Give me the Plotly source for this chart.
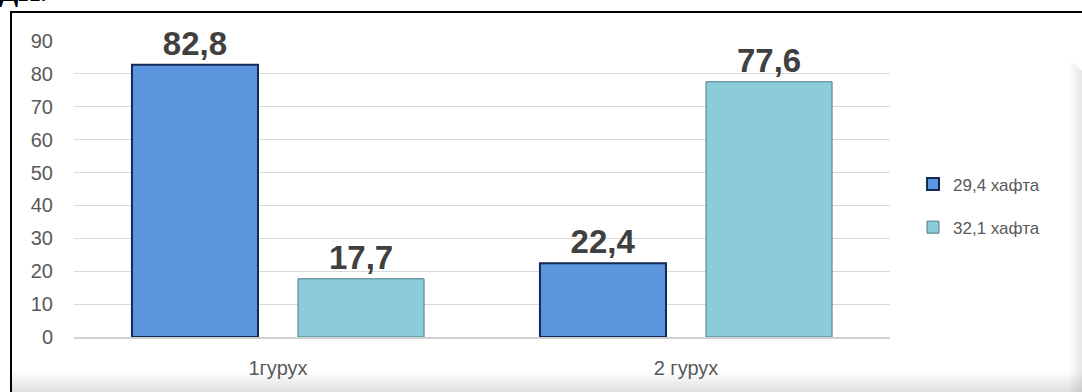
import plotly.graph_objects as go

categories = ["1гурух", "2 гурух"]
series_names = ["29,4 хафта", "32,1 хафта"]
values_s1 = [82.8, 22.4]
values_s2 = [17.7, 77.6]
y_ticks = [0, 10, 20, 30, 40, 50, 60, 70, 80, 90]

W, H = 1082, 392
L, R, T, B = 74, 192, 41, 55
PW, PH = W - L - R, H - T - B


def px(x):
    return (x - L) / PW


def py(y):
    return (H - B - y) / PH


fig = go.Figure()
fig.add_trace(go.Bar(
    x=categories, y=values_s1, name=series_names[0],
    marker=dict(color="#5B95DE", line=dict(color="#142A55", width=2)),
    texttemplate="%{y:.1f}", textposition="outside", cliponaxis=False,
    textfont=dict(family="Liberation Sans", size=33, color="#404040", weight="bold"),
    legendgroup="a",
))
fig.add_trace(go.Bar(
    x=categories, y=values_s2, name=series_names[1],
    marker=dict(color="#8CCBD8", line=dict(color="#4E7D87", width=1)),
    texttemplate="%{y:.1f}", textposition="outside", cliponaxis=False,
    textfont=dict(family="Liberation Sans", size=33, color="#404040", weight="bold"),
    legendgroup="b",
))

shapes = []
# bottom shadow gradient
for i in range(10):
    y0 = 372 + i * 2
    shapes.append(dict(type="rect", xref="paper", yref="paper",
                       x0=px(12), x1=px(1082), y0=py(y0 + 2), y1=py(y0),
                       fillcolor="rgba(0,0,0,%.3f)" % (0.012 * (i + 1)),
                       line=dict(width=0), layer="below"))
# right shadow gradient
for i in range(6):
    x0 = 1070 + i * 2
    shapes.append(dict(type="rect", xref="paper", yref="paper",
                       x0=px(x0), x1=px(x0 + 2), y0=py(392), y1=py(60 + i * 2),
                       fillcolor="rgba(0,0,0,%.3f)" % (0.015 * (i + 1)),
                       line=dict(width=0), layer="below"))
# outer border (top and left)
shapes.append(dict(type="line", xref="paper", yref="paper",
                   x0=px(10), x1=px(1090), y0=py(12), y1=py(12),
                   line=dict(color="black", width=2)))
shapes.append(dict(type="line", xref="paper", yref="paper",
                   x0=px(11), x1=px(11), y0=py(12), y1=py(400),
                   line=dict(color="black", width=2)))

fig.update_layout(
    width=W, height=H,
    margin=dict(l=L, r=R, t=T, b=B),
    paper_bgcolor="white", plot_bgcolor="white",
    barmode="group", bargap=0.186, bargroupgap=0.241,
    separators=", ",
    font=dict(family="Liberation Sans", size=17, color="#595959"),
    xaxis=dict(showgrid=False, showline=True, linecolor="#D0D0D0", linewidth=2,
               ticks="", tickfont=dict(size=20, color="#595959"),
               ticklabelstandoff=12),
    yaxis=dict(range=[0, 90], tickvals=y_ticks, showgrid=True,
               gridcolor="#D9D9D9", gridwidth=1, zeroline=False,
               showline=False, ticks="", tickfont=dict(size=20, color="#595959"),
               ticklabelstandoff=20),
    legend=dict(x=px(913), y=py(206), xanchor="left", yanchor="middle",
                font=dict(size=17, color="#595959"), traceorder="grouped",
                tracegroupgap=18, itemwidth=30, bgcolor="rgba(0,0,0,0)"),
    shapes=shapes,
    annotations=[dict(text="<b>ДИ.</b>", xref="paper", yref="paper",
                      x=px(-3), y=py(9), xanchor="left", yanchor="bottom",
                      showarrow=False,
                      font=dict(family="Liberation Serif", size=28, color="black"))],
)

fig.write_html("out.html")
